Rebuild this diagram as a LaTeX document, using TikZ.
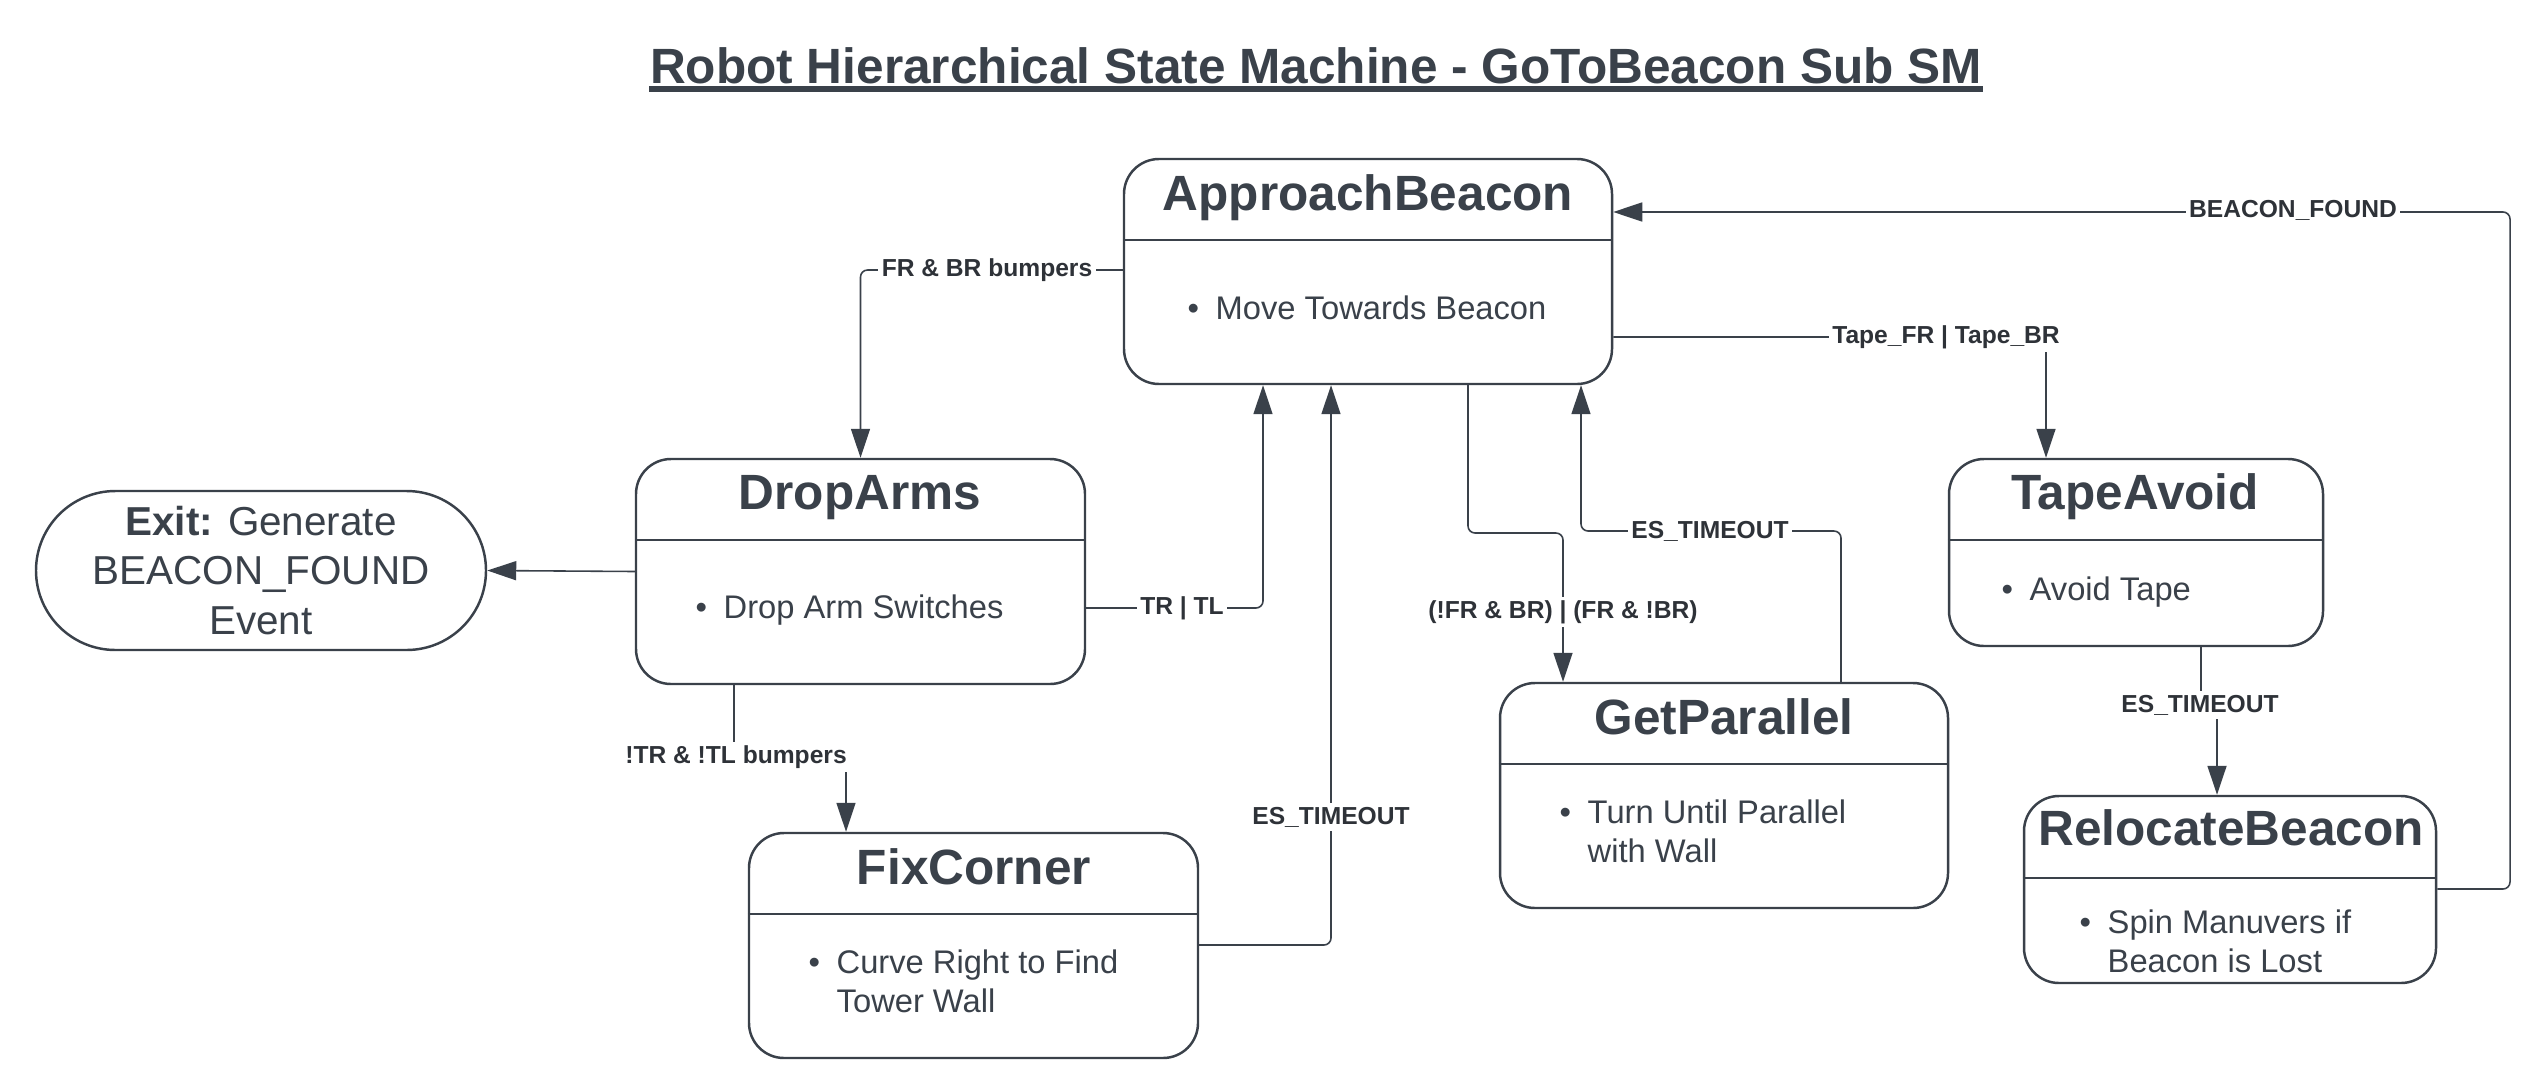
\documentclass[tikz,border=0pt]{standalone}
\usepackage{fontspec}
\setmainfont{Liberation Sans}
\usetikzlibrary{arrows.meta}
\definecolor{ink}{HTML}{3A414A}
\definecolor{guardink}{HTML}{2E3238}
\newcommand{\stateitem}[1]{\begin{tabular}[t]{@{}p{2.8mm}@{}l@{}}\textbullet & #1\end{tabular}}

\begin{document}
\begin{tikzpicture}[
  state/.style={draw=ink, line width=0.7pt, rounded corners=0.35cm, inner sep=0pt},
  heading/.style={anchor=base, inner sep=0pt, text=ink, font=\fontsize{14.1}{17}\selectfont\bfseries},
  item/.style={anchor=base west, inner sep=0pt, text=ink, font=\fontsize{9.3}{11.1}\selectfont},
  guard/.style={fill=white, inner sep=1pt, text=guardink, font=\fontsize{7}{8}\selectfont\bfseries},
  trans/.style={draw=ink, line width=0.45pt, rounded corners=2pt, -{Triangle[length=2.9mm, width=1.9mm]}},
  divider/.style={draw=ink, line width=0.45pt},
]
  \fill[white] (0, 0) rectangle (25.35, -10.91);

  \node[heading] (title) at (13.16, -0.83) {Robot Hierarchical State Machine - GoToBeacon Sub SM};
  \draw[ink, line width=1.7pt] ([yshift=-0.06cm]title.base west) -- ([yshift=-0.06cm]title.base east);

  \node[state, minimum width=4.88cm, minimum height=2.25cm] (approach) at (13.68, -2.715) {};
  \node[heading] (approachname) at (13.68, -2.105) {ApproachBeacon};
  \node[item] (approachdo) at (11.87, -3.19) {\stateitem{Move Towards Beacon}};

  \node[state, minimum width=4.49cm, minimum height=2.25cm] (droparms) at (8.605, -5.715) {};
  \node[heading] (droparmsname) at (8.60, -5.095) {DropArms};
  \node[item] (droparmsdo) at (6.95, -6.18) {\stateitem{Drop Arm Switches}};

  \node[state, minimum width=4.49cm, minimum height=2.25cm] (fixcorner) at (9.735, -9.455) {};
  \node[heading] (fixcornername) at (9.74, -8.84) {FixCorner};
  \node[item] (fixcornerdo) at (8.08, -9.73) {\stateitem{Curve Right to Find\\ & Tower Wall}};

  \node[state, minimum width=4.48cm, minimum height=2.25cm] (getparallel) at (17.24, -7.955) {};
  \node[heading] (getparallelname) at (17.24, -7.347) {GetParallel};
  \node[item] (getparalleldo) at (15.59, -8.23) {\stateitem{Turn Until Parallel\\ & with Wall}};

  \node[state, minimum width=3.74cm, minimum height=1.87cm] (tapeavoid) at (21.36, -5.525) {};
  \node[heading] (tapeavoidname) at (21.35, -5.09) {TapeAvoid};
  \node[item] (tapeavoiddo) at (20.01, -6.00) {\stateitem{Avoid Tape}};

  \node[state, minimum width=4.12cm, minimum height=1.87cm] (relocate) at (22.30, -8.895) {};
  \node[heading] (relocatename) at (22.31, -8.453) {RelocateBeacon};
  \node[item] (relocatedo) at (20.79, -9.33) {\stateitem{Spin Manuvers if\\ & Beacon is Lost}};

  \node[draw=ink, line width=0.7pt, rounded corners=0.795cm, minimum width=4.5cm, minimum height=1.59cm, align=center, text=ink, font=\fontsize{11.5}{14.1}\selectfont] (exit) at (2.61, -5.705) {\textbf{Exit:} Generate\\BEACON\_FOUND\\Event};

  \draw[divider] ([yshift=-0.82cm]approach.north west) -- ([yshift=-0.82cm]approach.north east);
  \draw[divider] ([yshift=-0.82cm]droparms.north west) -- ([yshift=-0.82cm]droparms.north east);
  \draw[divider] ([yshift=-0.82cm]fixcorner.north west) -- ([yshift=-0.82cm]fixcorner.north east);
  \draw[divider] ([yshift=-0.82cm]getparallel.north west) -- ([yshift=-0.82cm]getparallel.north east);
  \draw[divider] ([yshift=-0.82cm]tapeavoid.north west) -- ([yshift=-0.82cm]tapeavoid.north east);
  \draw[divider] ([yshift=-0.83cm]relocate.north west) -- ([yshift=-0.83cm]relocate.north east);

  \draw[trans] (approach.west |- 0, -2.70) -| (droparms.north);
  \draw[trans] (droparms.west) -- (exit.east);
  \draw[trans] (droparms.east |- 0, -6.08) -| (approach.south -| 12.63, 0);
  \draw[trans] (droparms.south -| 7.34, 0) |- (8.46, -7.57) -- (fixcorner.north -| 8.46, 0);
  \draw[trans] (fixcorner.east |- 0, -9.45) -| (approach.south -| 13.31, 0);
  \draw[trans] (approach.south -| 14.68, 0) |- (15.63, -5.33) -- (getparallel.north -| 15.63, 0);
  \draw[trans] (getparallel.north -| 18.41, 0) |- (15.81, -5.31) -- (approach.south -| 15.81, 0);
  \draw[trans] (approach.east |- 0, -3.37) -| (tapeavoid.north -| 20.46, 0);
  \draw[trans] (tapeavoid.south -| 22.01, 0) |- (22.17, -7.05) -- (relocate.north -| 22.17, 0);
  \draw[trans] (relocate.east |- 0, -8.89) -| (25.10, -2.12) -- (approach.east |- 0, -2.12);

  \node[guard] (frbr) at (9.87, -2.70) {FR \& BR bumpers};
  \node[guard] (trtl) at (11.82, -6.08) {TR | TL};
  \node[guard] (nottrtl) at (7.36, -7.57) {!TR \& !TL bumpers};
  \node[guard] (cornertimeout) at (13.31, -8.17) {ES\_TIMEOUT};
  \node[guard] (onebumper) at (15.63, -6.12) {(!FR \& BR) | (FR \& !BR)};
  \node[guard] (paralleltimeout) at (17.10, -5.31) {ES\_TIMEOUT};
  \node[guard] (tape) at (19.46, -3.37) {Tape\_FR | Tape\_BR};
  \node[guard] (avoidtimeout) at (22.00, -7.05) {ES\_TIMEOUT};
  \node[guard] (found) at (22.93, -2.10) {BEACON\_FOUND};
\end{tikzpicture}
\end{document}
